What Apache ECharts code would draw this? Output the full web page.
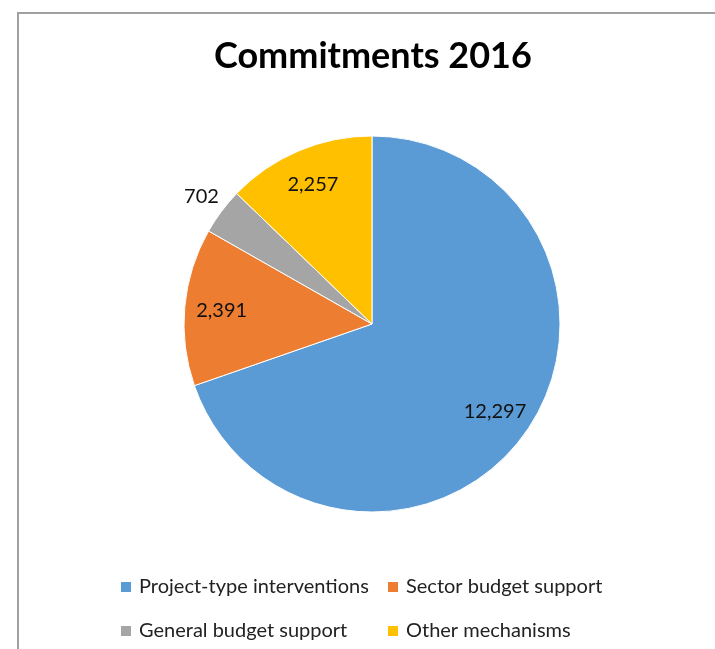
<!DOCTYPE html>
<html>
<head>
<meta charset="utf-8">
<script src="https://cdn.jsdelivr.net/npm/echarts@6/dist/echarts.min.js"></script>
<style>
html,body{margin:0;padding:0;background:#fff;}
#chart{width:715px;height:649px;}
</style>
</head>
<body>
<div id="chart"></div>
<script>
const titleText = 'Commitments 2016';
const categories = ['Project-type interventions', 'Sector budget support', 'General budget support', 'Other mechanisms'];
const values = [12297, 2391, 702, 2257];
const colors = ['#5B9BD5', '#ED7D31', '#A5A5A5', '#FFC000'];
const outsideLabelCats = ['General budget support'];

const fontFamily = 'Lato, "Open Sans", sans-serif';
const fmt = v => v.toLocaleString('en-US');

const mainData = categories.map((c, i) => ({ name: c, value: values[i], itemStyle: { color: colors[i] } }));
const insideLabelData = categories.map((c, i) => ({
  name: c, value: values[i],
  label: { show: outsideLabelCats.indexOf(c) < 0 }
}));
const outsideLabelData = categories.map((c, i) => ({
  name: c, value: values[i],
  label: { show: outsideLabelCats.indexOf(c) >= 0 }
}));

const labelStyle = {
  position: 'inside',
  formatter: p => fmt(p.value),
  fontFamily: fontFamily,
  fontSize: 20,
  color: '#111'
};

const hiddenSeries = (radius, data) => ({
  type: 'pie',
  center: [372, 324],
  radius: [0, radius],
  startAngle: 90,
  clockwise: true,
  silent: true,
  animation: false,
  avoidLabelOverlap: false,
  itemStyle: { color: 'rgba(0,0,0,0)', borderWidth: 0 },
  emphasis: { disabled: true },
  labelLine: { show: false },
  label: labelStyle,
  data: data,
  z: 5
});

// legend grid: [column left, row top] per category (Excel-style aligned columns)
const legendLefts = [119, 386, 119, 386];
const legendTops = [576, 576, 620, 620];
const makeLegend = (i) => ({
  orient: 'horizontal',
  icon: 'rect',
  itemWidth: 12,
  itemHeight: 12,
  left: legendLefts[i],
  top: legendTops[i],
  selectedMode: false,
  padding: 0,
  textStyle: { fontFamily: fontFamily, fontSize: 20, lineHeight: 22, color: '#222', padding: [0, 0, 0, 2] },
  data: [{ name: categories[i], itemStyle: { color: colors[i] } }]
});

const chart = echarts.init(document.getElementById('chart'), null, { renderer: 'canvas' });
chart.setOption({
  animation: false,
  backgroundColor: '#fff',
  title: {
    text: titleText,
    left: 214,
    top: 38,
    padding: 0,
    textStyle: { fontFamily: fontFamily, fontWeight: 'bold', fontSize: 36, color: '#000' }
  },
  graphic: [{
    type: 'rect',
    shape: { x: 18, y: 13, width: 900, height: 900 },
    style: { fill: 'none', stroke: '#a0a0a0', lineWidth: 2 },
    silent: true,
    z: 0
  }],
  legend: [makeLegend(0), makeLegend(1), makeLegend(2), makeLegend(3)],
  series: [
    {
      type: 'pie',
      center: [372, 324],
      radius: [0, 188],
      startAngle: 90,
      clockwise: true,
      animation: false,
      itemStyle: { borderColor: '#fff', borderWidth: 1 },
      label: { show: false },
      labelLine: { show: false },
      emphasis: { disabled: true },
      data: mainData
    },
    hiddenSeries(296, insideLabelData),
    hiddenSeries(420, outsideLabelData)
  ]
});
</script>
</body>
</html>
